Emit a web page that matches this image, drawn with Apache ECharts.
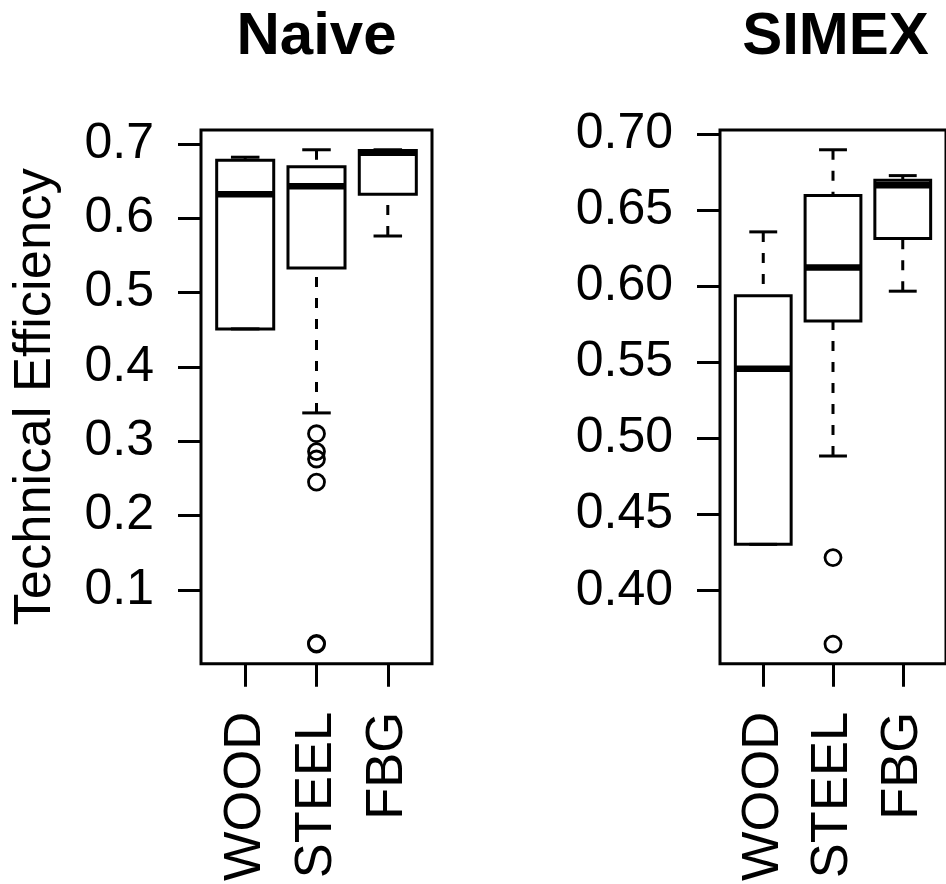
<!DOCTYPE html>
<html>
<head>
<meta charset="utf-8">
<script src="https://cdn.jsdelivr.net/npm/echarts@6/dist/echarts.min.js"></script>
<style>
  html, body { margin: 0; padding: 0; background: #fff; }
  #chart { width: 946px; height: 884px; }
</style>
</head>
<body>
<div id="chart"></div>
<script>
// Technical efficiency by pole material, naive vs. SIMEX estimates.
const categories = ['WOOD', 'STEEL', 'FBG'];

// Five-number summaries per group: [lower whisker, Q1, median, Q3, upper whisker]
const naiveStats = [
  [0.451, 0.451, 0.632, 0.678, 0.682],
  [0.338, 0.533, 0.643, 0.669, 0.692],
  [0.576, 0.632, 0.688, 0.691, 0.692]
];
// Outliers: [group (1-based), value]
const naiveOutliers = [
  [2, 0.310], [2, 0.286], [2, 0.276], [2, 0.245], [2, 0.028], [2, 0.027]
];
const naiveTicks = [0.1, 0.2, 0.3, 0.4, 0.5, 0.6, 0.7];

const simexStats = [
  [0.4305, 0.4305, 0.546, 0.594, 0.636],
  [0.4886, 0.5774, 0.6126, 0.660, 0.690],
  [0.597, 0.6316, 0.6667, 0.670, 0.673]
];
const simexOutliers = [
  [2, 0.4218], [2, 0.3649]
];
const simexTicks = [0.40, 0.45, 0.50, 0.55, 0.60, 0.65, 0.70];

const FONT = '"Liberation Sans", Arial, Helvetica, sans-serif';
const LW = 3;

// Axis limits padded by 4% of the data range on each side
function paddedRange(stats, outliers) {
  const vals = [];
  stats.forEach(s => vals.push(s[0], s[4]));
  outliers.forEach(o => vals.push(o[1]));
  const lo = Math.min(...vals), hi = Math.max(...vals);
  const pad = (hi - lo) * 0.04;
  return [lo - pad, hi + pad];
}

function boxData(stats) {
  return stats.map((s, i) => [i + 1].concat(s));
}

function renderBox(params, api) {
  const x = api.value(0);
  const lo = api.coord([x, api.value(1)]);
  const q1 = api.coord([x, api.value(2)]);
  const md = api.coord([x, api.value(3)]);
  const q3 = api.coord([x, api.value(4)]);
  const hi = api.coord([x, api.value(5)]);
  const half = api.size([0.8, 0])[0] / 2;
  const cap = half / 2;
  const cx = md[0];
  const solid = { stroke: '#000', lineWidth: LW, fill: null };
  const dashed = { stroke: '#000', lineWidth: LW, lineDash: [10, 11], fill: null };
  return {
    type: 'group',
    children: [
      { type: 'line', shape: { x1: cx, y1: hi[1], x2: cx, y2: q3[1] }, style: dashed },
      { type: 'line', shape: { x1: cx, y1: lo[1], x2: cx, y2: q1[1] }, style: dashed },
      { type: 'line', shape: { x1: cx - cap, y1: hi[1], x2: cx + cap, y2: hi[1] }, style: solid },
      { type: 'line', shape: { x1: cx - cap, y1: lo[1], x2: cx + cap, y2: lo[1] }, style: solid },
      { type: 'rect', shape: { x: cx - half, y: q3[1], width: half * 2, height: q1[1] - q3[1] },
        style: { stroke: '#000', lineWidth: LW, fill: 'rgba(0,0,0,0)' } },
      { type: 'line', shape: { x1: cx - half, y1: md[1], x2: cx + half, y2: md[1] },
        style: { stroke: '#000', lineWidth: 6.5, lineCap: 'butt' } }
    ]
  };
}

const grids = [
  { left: 201, top: 130, width: 231, height: 537 },
  { left: 720, top: 130, width: 231, height: 537 }
].map(g => Object.assign(g, { show: true, borderColor: '#000', borderWidth: LW, backgroundColor: 'transparent' }));

function xAxisFor(idx) {
  return {
    type: 'value', gridIndex: idx, min: 0.38, max: 3.62,
    axisLine: { show: false }, splitLine: { show: false },
    axisTick: { show: true, customValues: [1, 2, 3], length: 23, lineStyle: { color: '#000', width: LW } },
    axisLabel: {
      customValues: [1, 2, 3], rotate: 90, margin: 48,
      formatter: v => categories[Math.round(v) - 1],
      fontSize: 52.5, color: '#000', fontFamily: FONT
    }
  };
}

function yAxisFor(idx, range, ticks, digits, name) {
  return {
    type: 'value', gridIndex: idx, min: range[0], max: range[1],
    axisLine: { show: false }, splitLine: { show: false },
    axisTick: { show: true, customValues: ticks, length: 23, lineStyle: { color: '#000', width: LW } },
    axisLabel: {
      customValues: ticks, margin: 47,
      formatter: v => v.toFixed(digits),
      fontSize: 50, color: '#000', fontFamily: FONT
    },
    name: name || '', nameLocation: 'middle', nameGap: 139,
    nameTextStyle: { fontSize: 52.5, color: '#000', fontFamily: FONT }
  };
}

const naiveRange = paddedRange(naiveStats, naiveOutliers);
const simexRange = paddedRange(simexStats, simexOutliers);

const outlierStyle = { color: 'rgba(0,0,0,0)', borderColor: '#000', borderWidth: 2.8, opacity: 1 };

const option = {
  animation: false,
  backgroundColor: '#fff',
  grid: grids,
  xAxis: [xAxisFor(0), xAxisFor(1)],
  yAxis: [
    yAxisFor(0, naiveRange, naiveTicks, 1, 'Technical Efficiency'),
    yAxisFor(1, simexRange, simexTicks, 2, '')
  ],
  graphic: [
    { type: 'text', x: 316.5, y: 37, style: { text: 'Naive', align: 'center', verticalAlign: 'middle',
      font: 'bold 60px ' + FONT, fill: '#000' } },
    { type: 'text', x: 835.5, y: 37, style: { text: 'SIMEX', align: 'center', verticalAlign: 'middle',
      font: 'bold 60px ' + FONT, fill: '#000' } }
  ],
  series: [
    { type: 'custom', xAxisIndex: 0, yAxisIndex: 0, renderItem: renderBox, data: boxData(naiveStats),
      encode: { x: 0, y: [1, 2, 3, 4, 5] } },
    { type: 'scatter', xAxisIndex: 0, yAxisIndex: 0, data: naiveOutliers, symbol: 'circle', symbolSize: 16,
      itemStyle: outlierStyle },
    { type: 'custom', xAxisIndex: 1, yAxisIndex: 1, renderItem: renderBox, data: boxData(simexStats),
      encode: { x: 0, y: [1, 2, 3, 4, 5] } },
    { type: 'scatter', xAxisIndex: 1, yAxisIndex: 1, data: simexOutliers, symbol: 'circle', symbolSize: 16,
      itemStyle: outlierStyle }
  ]
};

const chart = echarts.init(document.getElementById('chart'), null, { renderer: 'canvas' });
chart.setOption(option);
</script>
</body>
</html>
